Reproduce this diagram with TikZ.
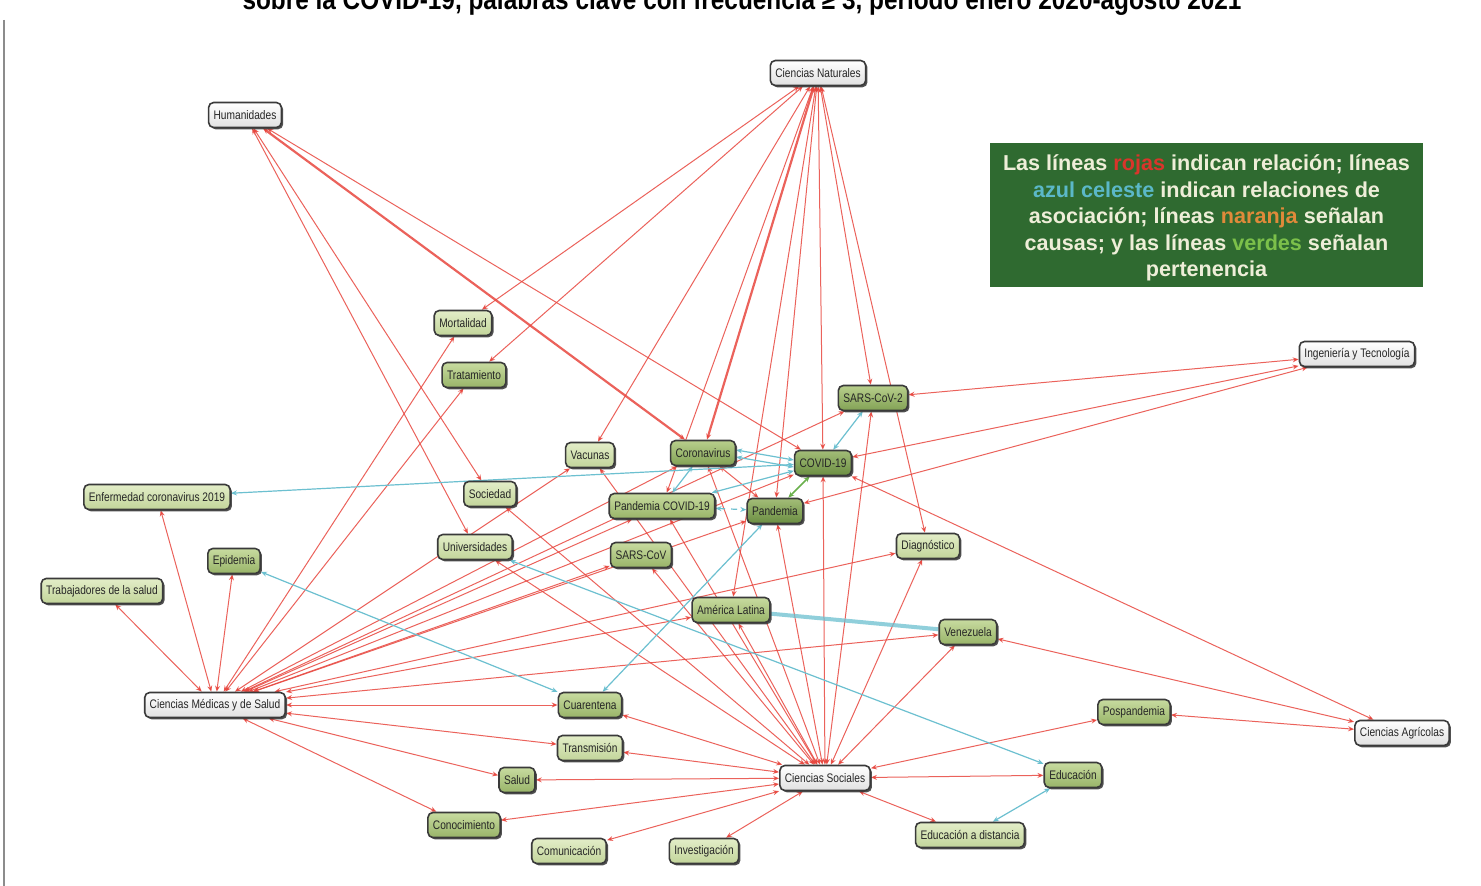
\documentclass[tikz,border=0pt]{standalone}
\usepackage{fontspec}
\setmainfont{Liberation Sans}
\newfontfamily\nodefont[FakeStretch=0.82]{Liberation Sans}
\newfontfamily\titlefont[FakeStretch=0.87]{Liberation Sans}
\newfontfamily\legfont{Liberation Sans}
\usetikzlibrary{arrows.meta,shadows,backgrounds}
\definecolor{relred}{HTML}{E8473F}
\definecolor{asocblue}{HTML}{6CC0D0}
\definecolor{pertgreen}{HTML}{6AB04C}
\definecolor{leggreen}{HTML}{2F6A30}
\definecolor{legtext}{HTML}{EEEED8}
\definecolor{legred}{HTML}{D9352B}
\definecolor{legblue}{HTML}{5BB8C8}
\definecolor{legorange}{HTML}{E08A3A}
\definecolor{leggr}{HTML}{7CC04A}
\definecolor{nodeborder}{HTML}{3A3A3A}
\definecolor{lgtop}{HTML}{E3EDC8}
\definecolor{lgbot}{HTML}{C2D59A}
\definecolor{mdtop}{HTML}{C8DBA0}
\definecolor{mdbot}{HTML}{98B468}
\definecolor{mktop}{HTML}{B8CF8C}
\definecolor{mkbot}{HTML}{82A255}
\definecolor{dktop}{HTML}{A3BD78}
\definecolor{dkbot}{HTML}{6B8E42}
\begin{document}
\begin{tikzpicture}[x=0.5pt,y=-0.5pt,
  kw/.style={draw=nodeborder, line width=0.8pt, rounded corners=2.5pt,
    font=\nodefont\fontsize{6.2}{7}\selectfont, text=black!85,
    inner xsep=2.5pt, inner ysep=0pt, minimum height=12.5pt,
    drop shadow={shadow xshift=0.9pt, shadow yshift=-0.9pt, fill=black!80, opacity=0.85}},
  wt/.style={kw, top color=white, bottom color=black!12},
  lg/.style={kw, top color=lgtop, bottom color=lgbot},
  md/.style={kw, top color=mdtop, bottom color=mdbot},
  mk/.style={kw, top color=mktop, bottom color=mkbot},
  dk/.style={kw, top color=dktop, bottom color=dkbot},
  rl/.style={draw=relred, line width=0.5pt, draw opacity=0.85,
    arrows={Stealth[length=3pt,width=2.5pt]-Stealth[length=3pt,width=2.5pt]}},
  bl/.style={draw=asocblue, line width=0.6pt,
    arrows={Stealth[length=3pt,width=2.5pt]-Stealth[length=3pt,width=2.5pt]}},
  gl/.style={draw=pertgreen, line width=0.8pt,
    arrows={Stealth[length=3pt,width=2.5pt]-Stealth[length=3pt,width=2.5pt]}}
]
\useasboundingbox (0,0) rectangle (1481,886);

% title (cut at the top edge, as in the reference)
\node[font=\titlefont\bfseries\fontsize{14}{16}\selectfont, anchor=base, inner sep=0pt] (title) at (742,10)
  {sobre la COVID-19, palabras clave con frecuencia ≥ 3, periodo enero 2020-agosto 2021};

% legend
\node[fill=leggreen, minimum width=216.5pt, minimum height=72pt, inner sep=0pt, align=center,
  font=\legfont\bfseries\fontsize{10.8}{13.2}\selectfont, text=legtext] (legend) at (1206.5,215)
  {\rule{0pt}{11pt}Las líneas \textcolor{legred}{rojas} indican relación; líneas\\
   \textcolor{legblue}{azul celeste} indican relaciones de\\
   asociación; líneas \textcolor{legorange}{naranja} señalan\\
   causas; y las líneas \textcolor{leggr}{verdes} señalan\\
   pertenencia};

% main areas
\node[wt] (CN) at (818,73) {Ciencias Naturales};
\node[wt] (Hum) at (245,115) {Humanidades};
\node[wt] (IT) at (1357,354) {Ingeniería y Tecnología};
\node[wt] (CA) at (1402,733) {Ciencias Agrícolas};
\node[wt] (CMS) at (215,705) {Ciencias Médicas y de Salud};
\node[wt] (CS) at (825,778) {Ciencias Sociales};

% keywords
\node[lg] (mort) at (463,323) {Mortalidad};
\node[md] (trat) at (474,375) {Tratamiento};
\node[lg] (vac) at (590,455) {Vacunas};
\node[mk] (coro) at (703,453) {Coronavirus};
\node[dk] (covid) at (823,463) {COVID-19};
\node[mk] (sars2) at (873,398) {SARS-CoV-2};
\node[lg] (soc) at (490,494) {Sociedad};
\node[md] (pcovid) at (662,506) {Pandemia COVID-19};
\node[dk] (pand) at (775,511) {Pandemia};
\node[lg] (ecov) at (157,497) {Enfermedad coronavirus 2019};
\node[lg] (univ) at (475,547) {Universidades};
\node[md] (sars) at (641,555) {SARS-CoV};
\node[lg] (diag) at (928,546) {Diagnóstico};
\node[md] (epi) at (234,561) {Epidemia};
\node[lg] (trab) at (102,591) {Trabajadores de la salud};
\node[md] (amlat) at (731,610) {América Latina};
\node[md] (vene) at (968,632) {Venezuela};
\node[md] (cuar) at (590,705) {Cuarentena};
\node[lg] (trans) at (590,748) {Transmisión};
\node[md] (salud) at (517,780) {Salud};
\node[md] (conoc) at (464,825) {Conocimiento};
\node[lg] (comun) at (569,851) {Comunicación};
\node[lg] (inv) at (704,851) {Investigación};
\node[lg] (ead) at (970,835) {Educación a distancia};
\node[md] (edu) at (1073,775) {Educación};
\node[md] (posp) at (1134,712) {Pospandemia};

\begin{scope}[on background layer]
\fill[white] (0,0) rectangle (1481,886);
\draw[black!45, line width=0.6pt] (4,20) -- (4,886);
% relations (red)
\foreach \a/\b in {CN/mort, CN/trat, CN/vac, CN/pcovid, CN/amlat, CN/pand, CN/covid, CN/sars2, CN/diag,
  Hum/soc, Hum/univ, Hum/covid,
  IT/sars2, IT/covid, IT/pand,
  CA/vene, CA/posp, CA/covid,
  CMS/trab, CMS/ecov, CMS/epi, CMS/mort, CMS/trat, CMS/vac, CMS/coro, CMS/pcovid, CMS/sars,
  CMS/pand, CMS/covid, CMS/sars2, CMS/amlat, CMS/diag, CMS/vene, CMS/cuar, CMS/trans, CMS/salud, CMS/conoc,
  CS/cuar, CS/trans, CS/salud, CS/conoc, CS/comun, CS/inv, CS/ead, CS/edu, CS/posp, CS/vene, CS/diag,
  CS/sars2, CS/covid, CS/pand, CS/amlat, CS/pcovid, CS/sars, CS/coro, CS/vac, CS/soc, CS/univ,
  coro/pand}
  \draw[rl] (\a) -- (\b);
\draw[rl, line width=1.1pt] (Hum) -- (coro);
\draw[rl, line width=1.1pt] (CN) -- (coro);
% associations (light blue)
\draw[bl] (covid) -- (ecov);
\draw[bl] ([yshift=1.5pt]coro.east) -- ([yshift=1.5pt]covid.west);
\draw[bl] ([yshift=-2pt]coro.east) -- ([yshift=-2pt]covid.west);
\draw[bl] (pcovid) -- (covid);
\draw[bl, dashed] (pcovid) -- (pand);
\draw[bl] (pcovid) -- (coro);
\draw[bl] (covid) -- (sars2);
\draw[bl] (epi) -- (cuar);
\draw[bl] (univ) -- (edu);
\draw[bl] (cuar) -- (pand);
\draw[bl] (ead) -- (edu);
\draw[draw=asocblue, line width=2pt, draw opacity=0.75] (amlat) -- (vene);
% belonging (green)
\draw[gl] (covid) -- (pand);
\end{scope}
\end{tikzpicture}
\end{document}
